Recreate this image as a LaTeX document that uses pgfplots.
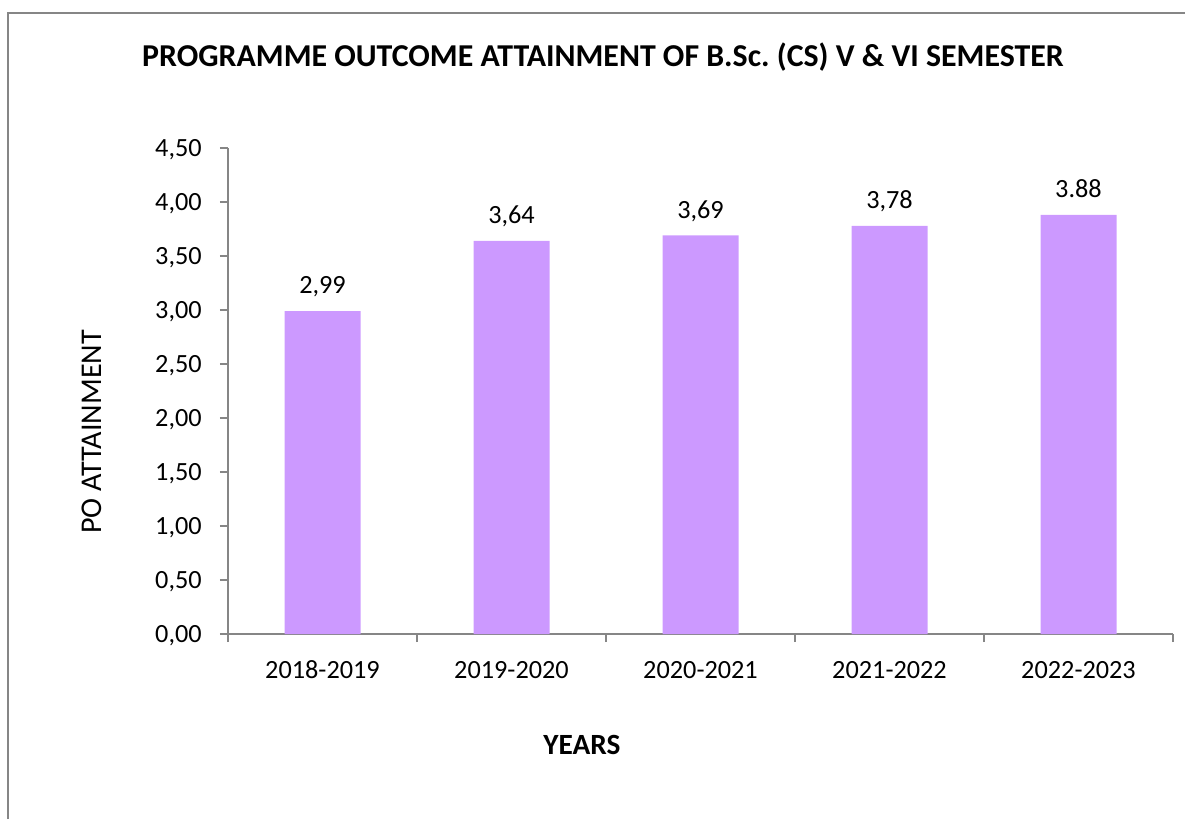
\documentclass[border=0pt]{standalone}
\usepackage{pgfplots}
\pgfplotsset{compat=1.18}
\usepackage{fontspec}
\setmainfont{Carlito}
\frenchspacing
\definecolor{barc}{HTML}{CC99FF}
\definecolor{axc}{HTML}{868686}
\begin{document}
\begin{tikzpicture}
\useasboundingbox (0,0) rectangle (888.75pt,-614.25pt);
\begin{scope}[x=0.75pt,y=-0.75pt]
\draw[axc,line width=1.3pt] (8,819) -- (8,13) -- (1185,13);
\node[font=\bfseries\fontsize{23.9}{28}\selectfont] at (603,57) {PROGRAMME OUTCOME ATTAINMENT OF B.Sc. (CS) V \& VI SEMESTER};
\node[font=\fontsize{22.6}{27}\selectfont,rotate=90] at (92,432) {PO ATTAINMENT};
\node[font=\bfseries\fontsize{22}{26}\selectfont] at (582,745) {YEARS};
\end{scope}
\begin{axis}[
  at={(171pt,-475.5pt)}, anchor=south west,
  scale only axis, width=708.75pt, height=364.5pt,
  xmin=-0.5, xmax=4.5, ymin=0, ymax=4.5,
  axis x line*=bottom, axis y line*=left,
  axis line style={axc,line width=1.3pt},
  ytick={0,0.5,...,4.5},
  xtick={0,1,2,3,4},
  xticklabels={2018-2019,2019-2020,2020-2021,2021-2022,2022-2023},
  minor xtick={-0.5,0.5,1.5,2.5,3.5,4.5},
  major x tick style={draw=none},
  minor x tick style={axc,line width=1.3pt},
  y tick style={axc,line width=1.3pt},
  tick align=outside,
  major tick length=6pt, minor tick length=6pt,
  /pgf/number format/fixed,
  /pgf/number format/fixed zerofill,
  /pgf/number format/precision=2,
  /pgf/number format/use comma,
  /pgf/number format/assume math mode=true,
  yticklabel style={anchor=base east,inner sep=0pt,xshift=-13.5pt,yshift=-6.2pt},
  xticklabel style={anchor=base,inner sep=0pt,yshift=-27pt},
  ticklabel style={font=\fontsize{19.7}{24}\selectfont},
  xtick pos=bottom, ytick pos=left,
  clip=false,
]
\addplot[ybar, bar width=57pt, fill=barc, draw=none,
  point meta=explicit symbolic,
  nodes near coords,
  every node near coord/.append style={font=\fontsize{19.7}{24}\selectfont,anchor=base,inner sep=0pt,yshift=13pt},
] table[meta=label] {
x y label
0 2.99 2,99
1 3.64 3,64
2 3.69 3,69
3 3.78 3,78
4 3.88 3.88
};
\end{axis}
\end{tikzpicture}
\end{document}
